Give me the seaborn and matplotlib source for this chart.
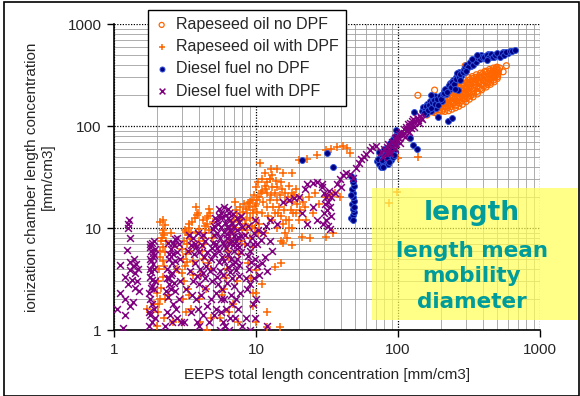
import matplotlib
matplotlib.use("Agg")
import matplotlib.pyplot as plt
from matplotlib.patches import Rectangle
from matplotlib.ticker import LogLocator, FuncFormatter, NullFormatter
import seaborn as sns
import pandas as pd

sns.set_style("white")
plt.rcParams["font.family"] = ["Liberation Sans", "DejaVu Sans"]

# ---------------- data (EEPS x, ionization chamber y) [mm/cm3] ----------------
series_names = ["Rapeseed oil no DPF", "Rapeseed oil with DPF",
                "Diesel fuel no DPF", "Diesel fuel with DPF"]

rape_nodpf = [
    (176, 137), (180, 145), (183, 135), (187, 150), (190, 160), (193, 138), (196, 152),
    (199, 166), (201, 178), (204, 140), (207, 154), (209, 170), (212, 186), (214, 139),
    (217, 156), (219, 174), (222, 192), (224, 206), (227, 141), (229, 160), (232, 179),
    (234, 202), (237, 222), (240, 146), (243, 166), (245, 190), (248, 212), (251, 236),
    (254, 151), (257, 174), (259, 197), (262, 224), (266, 250), (268, 156), (271, 182),
    (274, 207), (277, 236), (281, 264), (284, 163), (287, 190), (290, 218), (293, 247),
    (297, 282), (301, 173), (304, 200), (307, 231), (311, 260), (314, 298), (318, 183),
    (322, 210), (325, 243), (329, 274), (333, 305), (338, 193), (342, 222), (347, 254),
    (352, 287), (356, 318), (362, 206), (367, 234), (372, 267), (377, 300), (382, 330),
    (388, 226), (393, 252), (398, 282), (404, 312), (410, 344), (418, 241), (423, 267),
    (428, 297), (434, 327), (440, 358), (447, 256), (452, 282), (458, 312), (464, 342),
    (470, 370), (476, 271), (482, 302), (488, 332), (494, 360), (500, 292), (506, 322),
    (510, 352), (498, 378),
    (178, 141), (184, 143), (189, 155), (195, 145), (198, 172), (203, 160), (208, 147),
    (211, 180), (216, 164), (220, 150), (223, 183), (226, 168), (231, 190), (236, 155),
    (239, 176), (242, 198), (246, 170), (250, 183), (253, 207), (256, 160), (260, 186),
    (264, 212), (267, 240), (270, 168), (273, 194), (276, 222), (279, 252), (283, 176),
    (286, 203), (289, 232), (292, 262), (296, 185), (299, 212), (303, 242), (306, 270),
    (309, 190), (313, 220), (317, 250), (320, 282), (324, 198), (328, 230), (332, 260),
    (336, 292), (340, 205), (345, 238), (350, 270), (354, 300), (360, 218), (365, 248),
    (370, 280), (375, 312), (380, 232), (386, 262), (391, 296), (396, 325), (402, 245),
    (408, 275), (414, 305), (420, 338), (426, 255), (432, 285), (438, 315), (444, 345),
    (450, 268), (456, 296), (462, 326), (468, 355), (474, 283), (480, 315), (486, 345),
    (492, 372), (503, 305), (508, 336), (496, 330),
    (138, 200), (181, 225), (297, 390), (550, 340), (580, 390), (160, 128), (520, 370),
]

rape_dpf = [
    (1.7, 1.6), (1.9, 1.8), (2.0, 1.1), (2.05, 1.5), (2.1, 2.0), (2.15, 2.6), (2.2, 3.3),
    (2.25, 4.2), (2.1, 5.2), (2.2, 6.5), (2.15, 7.5), (2.25, 8.5), (2.2, 9.5), (2.3, 10.7),
    (2.05, 3.0), (2.3, 5.8), (2.25, 1.3), (2.5, 9.0), (2.7, 7.0), (2.2, 12.0), (2.4, 2.2),
    (2.6, 1.2), (2.8, 4.0), (3.0, 1.2), (3.05, 2.0), (3.1, 3.0), (3.15, 4.2), (3.2, 5.5),
    (3.25, 7.0), (3.3, 8.5), (3.35, 10.0), (3.4, 11.0), (3.5, 1.6), (3.3, 2.5), (3.45, 6.0),
    (3.2, 9.2), (3.0, 6.2), (3.6, 4.8), (3.7, 12.5), (3.8, 16.0), (4.0, 2.0), (4.1, 3.5),
    (4.2, 5.0), (4.3, 7.0), (4.4, 9.0), (4.5, 11.0), (4.6, 13.0), (4.7, 15.5), (4.8, 1.3),
    (4.6, 4.5), (4.9, 8.0), (4.2, 12.0), (4.5, 1.0), (3.9, 14.0), (4.0, 9.8),
    (2.02, 2.3), (2.08, 4.0), (2.12, 6.0), (2.18, 8.0), (2.22, 9.0), (2.28, 2.0),
    (2.32, 7.5), (2.12, 11.5), (2.22, 4.8), (2.06, 1.8),
    (3.02, 3.6), (3.08, 5.0), (3.12, 7.5), (3.18, 9.5), (3.22, 1.5), (3.28, 4.6),
    (3.38, 2.2), (3.42, 7.8), (3.48, 9.0), (3.55, 11.5), (3.62, 3.5), (3.68, 6.8),
    (3.75, 9.2), (3.85, 13.5), (3.95, 7.5),
    (4.05, 1.2), (4.15, 6.0), (4.25, 8.0), (4.35, 10.5), (4.45, 2.5), (4.55, 12.5),
    (4.65, 9.5), (4.75, 14.0), (4.85, 4.0), (4.95, 11.5),
    (6.0, 2.5), (6.2, 4.0), (6.4, 6.0), (6.6, 8.0), (6.8, 10.5), (7.0, 13.0), (7.2, 15.0),
    (7.4, 3.0), (7.6, 5.5), (7.8, 7.5), (8.0, 9.5), (6.5, 1.5), (7.5, 1.2), (5.6, 1.3),
    (5.8, 2.2), (6.9, 1.8), (7.1, 18.0), (7.5, 12.0),
    (6.1, 3.2), (6.3, 5.2), (6.5, 7.2), (6.7, 9.2), (6.9, 11.5), (7.3, 14.0), (7.7, 16.0),
    (7.9, 12.5), (8.1, 14.5), (8.3, 11.0), (8.5, 15.5), (8.8, 17.5), (9.0, 12.5),
    (9.4, 10.5), (9.6, 14.0), (9.9, 16.5), (10.2, 14.5), (10.4, 9.0), (8.4, 7.0), (7.2, 10.0),
    (8.5, 12.0), (8.7, 14.0), (8.9, 16.0), (9.1, 18.0), (9.3, 19.0), (8.6, 9.5), (9.0, 8.0),
    (9.5, 6.5), (9.8, 10.0), (10.0, 12.0), (8.8, 4.5), (9.2, 3.2), (9.6, 2.3), (9.5, 1.7),
    (10.0, 3.9), (10.0, 2.3), (8.2, 17.0), (9.7, 21.0),
    (9.5, 15.0), (10.0, 17.0), (10.5, 20.0), (11.0, 23.0), (11.5, 26.0), (12.0, 28.0),
    (12.5, 30.0), (13.0, 25.0), (13.5, 22.0), (14.0, 19.0), (14.5, 16.0), (15.0, 13.0),
    (15.5, 11.0), (16.0, 9.0), (16.5, 8.0), (17.0, 12.0), (17.5, 15.0), (18.0, 18.0),
    (18.5, 21.0), (19.0, 24.0), (20.0, 20.0), (10.5, 11.0), (11.0, 14.0), (11.5, 9.0),
    (12.0, 16.0), (12.5, 19.0), (13.0, 12.0), (13.5, 14.0), (14.0, 25.0), (15.0, 28.0),
    (16.0, 22.0), (17.0, 26.0), (10.0, 25.0), (11.0, 30.0), (12.0, 22.0), (13.0, 33.0),
    (14.0, 10.0), (15.0, 7.5), (16.0, 18.0), (18.0, 10.0), (19.0, 14.0), (20.0, 12.0),
    (21.0, 8.2), (15.5, 7.1), (18.0, 6.8), (24.0, 8.0), (31.0, 8.2), (35.0, 9.0),
    (31.0, 20.0), (33.0, 21.0), (36.0, 22.0), (39.0, 20.0), (22.0, 16.0), (25.0, 14.0),
    (10.2, 19.0), (10.8, 22.0), (11.2, 18.0), (11.8, 24.0), (12.2, 13.0), (12.8, 21.0),
    (13.2, 16.0), (13.8, 29.0), (14.2, 14.0), (14.8, 21.0), (15.2, 24.0), (15.8, 15.0),
    (16.2, 12.0), (16.8, 20.0), (17.2, 10.0), (17.8, 22.0), (18.2, 14.0), (19.5, 17.0),
    (20.5, 15.0), (21.5, 18.0), (22.5, 12.0), (23.5, 20.0), (11.5, 35.0), (12.8, 38.0),
    (10.3, 28.0), (26.0, 22.0), (28.0, 17.0),
    (10.7, 43.0), (12.5, 30.0), (14.0, 38.0), (15.5, 35.0), (18.0, 35.0), (20.0, 46.0),
    (23.0, 48.0), (27.0, 52.0), (31.0, 58.0), (34.0, 60.0), (37.0, 62.0), (41.0, 63.0),
    (44.0, 61.0), (46.0, 54.0),
    (15.0, 4.5), (13.6, 4.1), (12.0, 1.5), (12.0, 1.07), (14.7, 1.07), (10.0, 1.2), (11.0, 2.8),
    (100, 48.5), (138, 50), (98, 22.5), (86, 17.6),
]

diesel_nodpf = [
    (47, 12.5), (48, 13.5), (49, 14.5), (48, 15.5), (47.5, 17), (49, 18.5), (48, 20),
    (48.5, 22), (47.5, 24), (49, 26), (48, 28), (48.5, 30), (47, 32), (49, 16), (47, 21),
    (48, 12),
    (21, 46), (31.6, 54), (34.7, 40),
    (71, 45), (73, 42), (75, 48), (76, 52), (78, 44), (79, 56), (80, 50), (82, 46),
    (83, 54), (84, 60), (85, 42), (86, 49), (87, 57), (88, 52), (89, 46), (90, 62),
    (91, 55), (92, 50), (93, 58), (95, 66), (96, 72), (98, 80), (97, 92), (88, 68),
    (80, 60), (76, 40), (92, 75), (121, 76), (127, 65), (135, 59),
    (72, 48), (74, 55), (77, 46), (81, 52), (84, 48), (86, 64), (89, 58), (91, 66),
    (94, 52), (95, 80), (82, 58), (78, 40), (87, 44), (93, 70),
    (130, 137), (147, 140), (150, 155), (155, 145), (160, 165), (163, 150), (168, 175),
    (170, 140), (175, 185), (178, 160), (182, 195), (185, 150), (188, 170), (192, 122),
    (195, 185), (200, 200), (205, 175), (225, 113), (240, 120), (158, 132), (172, 200),
    (152, 135), (157, 158), (162, 142), (166, 160), (171, 150), (174, 170), (179, 178),
    (183, 165), (187, 182), (191, 160), (197, 195), (202, 185), (207, 205), (212, 220),
    (218, 205), (224, 240), (230, 225), (233, 262), (238, 250), (244, 280), (252, 275),
    (258, 305), (263, 290), (270, 335), (280, 310), (288, 350), (295, 340), (305, 370),
    (315, 400), (325, 390), (340, 420), (350, 455), (370, 470), (385, 500), (398, 460),
    (410, 490), (428, 510), (442, 470), (458, 500), (475, 480), (490, 510), (510, 500),
    (530, 510), (550, 530), (595, 525), (625, 545),
    (210, 210), (215, 230), (222, 215), (228, 250), (235, 240), (240, 270), (248, 260),
    (255, 290), (260, 330), (265, 225), (268, 300), (275, 320), (285, 340), (290, 360),
    (297, 375), (300, 400), (310, 380), (320, 420), (335, 400), (345, 440), (355, 420),
    (365, 460), (380, 450), (390, 480), (405, 470), (420, 500), (435, 480), (450, 510),
    (465, 470), (480, 500), (500, 520), (520, 480), (540, 520), (560, 500), (580, 530),
    (610, 540), (640, 548), (670, 552), (330, 450), (360, 500), (420, 440), (300, 350),
    (275, 280), (250, 230),
]

diesel_dpf = [
    (1.05, 1.6), (1.1, 2.3), (1.1, 4.3), (1.15, 1.05), (1.2, 1.4), (1.2, 3.3), (1.23, 6.1),
    (1.25, 11), (1.27, 12), (1.25, 10), (1.3, 1.7), (1.3, 3.9), (1.3, 4.6), (1.33, 3.1),
    (1.35, 4.2), (1.38, 5.0), (1.4, 3.6), (1.4, 2.6), (1.43, 4.4), (1.45, 3.0), (1.3, 8.0),
    (1.2, 2.0), (1.35, 1.9), (1.5, 2.4), (1.48, 4.0), (1.25, 2.8),
    (1.75, 1.1), (1.8, 1.4), (1.8, 2.0), (1.85, 2.7), (1.78, 3.3), (1.9, 4.0), (1.82, 4.8),
    (1.88, 5.7), (1.8, 6.5), (1.92, 7.5), (1.85, 1.2), (1.9, 1.6), (1.77, 2.3), (1.95, 3.0),
    (1.83, 3.7), (1.87, 5.2), (1.93, 6.2), (1.79, 7.0), (1.86, 1.8), (1.9, 2.5),
    (1.76, 1.5), (1.81, 2.6), (1.84, 3.1), (1.89, 4.4), (1.78, 5.0), (1.91, 5.4),
    (1.83, 6.0), (1.86, 7.2), (1.94, 1.3), (1.8, 4.0),
    (2.3, 1.1), (2.35, 1.5), (2.4, 2.1), (2.45, 2.8), (2.5, 3.5), (2.55, 4.5), (2.6, 5.5),
    (2.65, 6.8), (2.7, 7.8), (2.8, 1.3), (2.85, 2.0), (2.9, 3.0), (2.75, 4.0), (2.6, 1.8),
    (2.5, 6.2), (2.4, 7.2), (2.7, 2.4), (2.35, 3.2), (2.9, 5.0), (2.55, 1.2), (2.8, 8.0),
    (2.45, 5.0),
    (2.32, 2.4), (2.38, 4.0), (2.42, 5.6), (2.48, 1.4), (2.52, 2.5), (2.58, 3.6),
    (2.62, 7.2), (2.68, 4.8), (2.72, 1.6), (2.78, 5.8), (2.88, 7.0), (2.95, 1.2),
    (2.42, 3.2), (2.66, 2.9),
    (3.1, 1.2), (3.2, 2.5), (3.3, 6.0), (3.4, 8.5), (3.5, 1.5), (3.6, 3.0), (3.7, 4.5),
    (3.8, 6.5), (3.9, 9.0), (4.0, 1.1), (4.1, 2.2), (4.2, 3.6), (4.3, 5.2), (4.4, 7.5),
    (4.5, 1.7), (3.6, 8.0), (4.0, 5.8), (3.75, 2.0), (4.25, 1.4), (4.45, 4.2), (3.45, 3.8),
    (3.95, 2.8),
    (3.55, 2.2), (3.65, 5.6), (3.72, 7.0), (3.85, 3.4), (3.92, 1.6), (4.05, 4.0),
    (4.15, 6.8), (4.22, 8.6), (4.35, 2.6), (4.4, 3.2), (4.55, 5.8), (3.5, 6.8), (3.82, 1.2),
    (4.7, 1.2), (4.8, 2.0), (4.9, 3.0), (5.0, 4.0), (5.1, 5.5), (5.2, 7.0), (5.3, 9.0),
    (5.4, 11), (5.5, 13), (5.6, 1.0), (5.7, 1.5), (5.8, 2.5), (5.9, 3.5), (6.0, 4.8),
    (6.1, 6.3), (6.2, 8.0), (6.3, 10), (6.4, 12.5), (6.5, 14), (6.6, 1.3), (6.7, 2.2),
    (6.8, 3.2), (6.9, 4.4), (7.0, 6.0), (7.2, 7.5), (7.4, 9.5), (7.6, 11.5), (7.8, 13),
    (8.0, 1.1), (5.2, 1.6), (5.4, 2.8), (5.6, 3.8), (5.8, 5.2), (6.0, 6.8), (6.2, 8.8),
    (6.4, 10.5), (6.6, 12), (6.8, 1.8), (7.0, 2.7), (7.2, 3.9), (7.4, 5.0), (7.6, 6.5),
    (7.8, 8.3), (5.0, 9.8), (5.3, 12), (5.7, 14), (6.1, 13.5), (6.9, 13.8), (7.3, 12.5),
    (5.5, 6.0), (6.3, 5.5), (7.1, 4.6), (5.9, 1.2), (6.5, 1.0), (7.5, 1.6), (4.9, 6.4),
    (5.1, 8.5), (6.7, 9.2), (7.7, 2.3), (6.0, 2.0), (5.35, 3.3),
    (4.75, 3.8), (4.85, 5.0), (4.95, 7.2), (5.05, 10.5), (5.15, 12.4), (5.25, 2.3),
    (5.45, 4.6), (5.55, 8.0), (5.65, 10.2), (5.75, 12.8), (5.85, 7.2), (5.95, 9.2),
    (6.05, 11.3), (6.15, 1.6), (6.25, 2.9), (6.35, 4.1), (6.45, 7.2), (6.55, 9.5),
    (6.65, 5.0), (6.75, 11.2), (6.85, 6.8), (6.95, 8.3), (7.05, 10.2), (7.15, 1.3),
    (7.25, 2.0), (7.35, 6.8), (7.45, 8.2), (7.55, 3.4), (7.65, 4.3), (7.85, 5.8),
    (7.95, 10.2), (5.45, 15.5), (5.95, 16), (6.35, 15.5), (5.05, 1.4), (5.65, 2.0),
    (6.05, 1.1), (6.55, 3.7), (5.3, 6.4), (6.8, 7.5),
    (8.5, 1.3), (8.7, 2.5), (8.9, 4.0), (9.1, 6.0), (9.3, 8.0), (9.5, 1.8), (9.7, 3.2),
    (9.9, 5.0), (10.1, 7.0), (10.3, 9.5), (8.6, 7.0), (9.0, 1.0), (10.0, 2.0), (8.8, 10.5),
    (8.55, 3.2), (8.75, 5.3), (9.05, 2.8), (9.25, 4.6), (9.45, 7.0), (9.65, 9.0),
    (9.85, 1.3), (10.2, 4.2), (8.4, 8.5), (9.9, 12),
    (10.5, 3.5), (11, 4.5), (11.5, 5.2), (12, 3.8), (10.8, 7.6), (11.2, 9.0), (11.8, 10.5),
    (12.5, 12), (12, 1.1), (13, 6.0), (12.5, 7.5), (14, 11), (15.5, 18), (17, 19),
    (18.5, 19.5), (20, 20), (22, 24), (23, 27), (25, 27.6), (27, 28), (29, 27),
    (21, 14), (23, 11), (25, 16), (27, 12),
    (29, 25), (30, 22), (31, 20), (32, 18), (33, 16), (30, 14), (31, 12), (32, 10.5),
    (33, 9.8), (34, 13), (30.5, 17), (32.5, 23), (31.5, 15), (29.5, 11), (33.5, 20),
    (37, 27), (39, 30), (41, 33), (43, 35), (46, 34), (48, 31), (51, 39), (53, 43),
    (55, 47), (58, 50), (60, 53), (63, 58), (66, 62), (70, 64), (36, 22), (40, 25),
    (78, 50), (82, 54), (86, 58), (90, 62), (94, 66), (98, 71), (102, 76), (106, 81),
    (110, 86), (115, 92), (120, 98), (126, 104), (132, 110), (138, 115), (145, 120),
    (84, 62), (90, 70), (96, 76), (102, 84), (110, 94), (118, 104), (126, 112), (88, 54),
    (95, 60), (103, 68), (112, 78), (120, 88), (130, 98), (140, 108),
    (80, 60), (85, 66), (92, 70), (99, 78), (105, 88), (113, 98), (121, 107), (128, 116),
    (135, 121), (142, 125), (148, 118), (108, 82), (116, 90), (124, 96), (97, 66),
    (86, 54), (76, 56),
]

frames = []
for name, pts in zip(series_names, [rape_nodpf, rape_dpf, diesel_nodpf, diesel_dpf]):
    frames.append(pd.DataFrame({"x": [p[0] for p in pts], "y": [p[1] for p in pts],
                                "series": name}))
df = pd.concat(frames, ignore_index=True)

# ---------------- figure ----------------
W, H = 580, 396
fig = plt.figure(figsize=(W / 100, H / 100), dpi=100)
ax = fig.add_axes([114 / W, 66 / H, 426 / W, 306 / H])

orange = "#ff6600"
purple = "#800080"

d = df[df.series == series_names[0]]
sns.scatterplot(data=d, x="x", y="y", ax=ax, marker="o", s=18, color=orange,
                facecolor="none", edgecolor=orange, linewidth=0.9,
                label=series_names[0], zorder=3)
d = df[df.series == series_names[1]]
sns.scatterplot(data=d, x="x", y="y", ax=ax, marker="+", s=30, color=orange,
                linewidth=1.1, label=series_names[1], zorder=3)
d = df[df.series == series_names[2]]
sns.scatterplot(data=d, x="x", y="y", ax=ax, marker="o", s=18, color="#000080",
                edgecolor="#3050d8", linewidth=0.7, label=series_names[2], zorder=3)
d = df[df.series == series_names[3]]
sns.scatterplot(data=d, x="x", y="y", ax=ax, marker="x", s=24, color=purple,
                linewidth=1.1, label=series_names[3], zorder=3)

ax.set_xscale("log")
ax.set_yscale("log")
ax.set_xlim(1, 1000)
ax.set_ylim(1, 1000)

fmt = FuncFormatter(lambda v, p: f"{v:g}")
for axis in (ax.xaxis, ax.yaxis):
    axis.set_major_locator(LogLocator(base=10, numticks=10))
    axis.set_minor_locator(LogLocator(base=10, subs=range(2, 10), numticks=20))
    axis.set_major_formatter(fmt)
    axis.set_minor_formatter(NullFormatter())

ax.set_axisbelow(True)
ax.grid(which="minor", color="#a0a0a0", linestyle="-", linewidth=0.6)
ax.grid(which="major", color="black", linestyle=(0, (1, 1.2)), linewidth=0.9)

for s in ("top", "right"):
    ax.spines[s].set_visible(False)
for s in ("left", "bottom"):
    ax.spines[s].set_color("black")
    ax.spines[s].set_linewidth(1.2)

ax.tick_params(which="major", direction="out", length=5, width=1, color="black",
               labelsize=11, pad=4, left=True, bottom=True)
ax.tick_params(which="minor", length=0)

ax.set_xlabel("EEPS total length concentration [mm/cm3]", fontsize=11, labelpad=8)
ax.set_ylabel("ionization chamber length concentration\n[mm/cm3]", fontsize=11,
              labelpad=9, linespacing=1.15)

leg = ax.legend(loc="upper left", bbox_to_anchor=(0.08, 1.046), borderaxespad=0,
                frameon=True, fancybox=False, framealpha=1, edgecolor="black",
                fontsize=11.5, labelspacing=0.45, handlelength=0.8, handletextpad=0.5,
                borderpad=0.45, markerscale=0.85)
leg.get_frame().set_linewidth(1.0)
leg.set_zorder(10)

# yellow annotation box
ax.add_patch(Rectangle((0.606, 0.033), 0.481, 0.431, transform=ax.transAxes,
                       clip_on=False, facecolor="#ffff55", alpha=0.7,
                       edgecolor="none", zorder=5))
teal = "#009b9b"
tx = 0.840
ax.text(tx, 0.359, "length", transform=ax.transAxes, ha="center", va="baseline",
        fontsize=19, fontweight="bold", color=teal, family="DejaVu Sans", zorder=6)
for yy, t in [(0.239, "length mean"), (0.157, "mobility"), (0.072, "diameter")]:
    ax.text(tx, yy, t, transform=ax.transAxes, ha="center", va="baseline",
            fontsize=15.5, fontweight="bold", color=teal, family="DejaVu Sans", zorder=6)

# figure border
fig.patches.append(Rectangle((4 / W, 0.5 / H), (W - 5) / W, (H - 2.5) / H,
                             transform=fig.transFigure, fill=False,
                             edgecolor="black", linewidth=1.2))

fig.savefig("out.png", dpi=100)
